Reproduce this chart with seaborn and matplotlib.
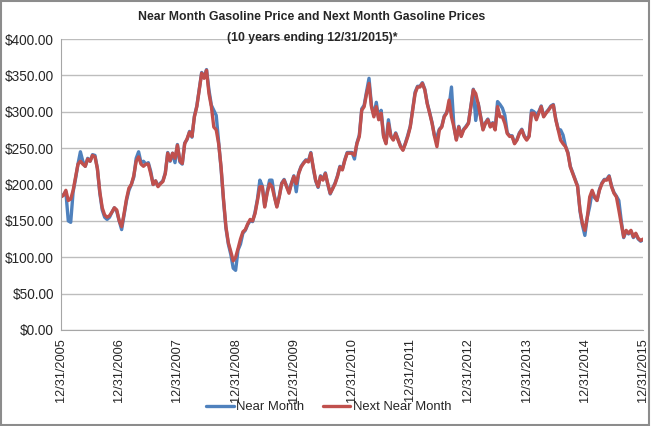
import matplotlib
matplotlib.use("Agg")
import matplotlib.pyplot as plt
import pandas as pd
import seaborn as sns

# Prices, one value per half month (cents per gallon shown as $)
next_2006 = [183, 185, 192, 178, 180, 192, 210, 228, 232, 228, 225, 235, 232, 240, 238, 222, 190, 168, 158, 155, 157, 162, 168, 165]
next_2007 = [150, 142, 160, 180, 195, 200, 212, 232, 238, 228, 225, 228, 228, 215, 200, 205, 197, 201, 204, 215, 243, 233, 243, 236]
next_2008 = [254, 233, 229, 256, 263, 272, 266, 293, 307, 330, 353, 346, 357, 325, 307, 279, 275, 256, 224, 180, 142, 120, 108, 95]
next_2009 = [100, 112, 125, 135, 138, 146, 152, 150, 160, 178, 197, 197, 169, 188, 201, 197, 183, 169, 183, 201, 206, 197, 188, 201]
next_2010 = [211, 201, 215, 224, 229, 233, 231, 243, 224, 206, 197, 211, 206, 215, 201, 188, 194, 201, 211, 224, 220, 233, 243, 243]
next_2011 = [243, 240, 256, 266, 302, 307, 325, 339, 307, 293, 307, 289, 298, 266, 256, 284, 266, 261, 270, 261, 252, 247, 256, 266]
next_2012 = [279, 302, 325, 334, 334, 339, 330, 311, 298, 284, 266, 252, 275, 279, 293, 298, 316, 293, 279, 261, 279, 266, 275, 279]
next_2013 = [284, 307, 330, 325, 311, 293, 275, 284, 289, 279, 284, 275, 307, 293, 293, 284, 270, 266, 266, 256, 261, 270, 275, 266]
next_2014 = [261, 266, 298, 298, 289, 298, 307, 293, 298, 302, 307, 309, 289, 275, 261, 256, 252, 243, 224, 215, 206, 197, 165, 146]
next_2015 = [137, 155, 183, 192, 183, 178, 192, 201, 206, 206, 211, 197, 188, 183, 165, 146, 128, 137, 133, 137, 128, 133, 126, 123, 125]

near_2006 = [183, 186, 190, 150, 148, 190, 208, 228, 245, 232, 225, 236, 232, 241, 240, 222, 188, 165, 155, 152, 155, 162, 168, 163]
near_2007 = [150, 138, 158, 178, 192, 200, 210, 236, 245, 230, 232, 228, 230, 218, 200, 205, 198, 202, 205, 216, 244, 232, 243, 230]
near_2008 = [255, 231, 228, 257, 262, 273, 265, 294, 308, 331, 354, 347, 358, 330, 309, 302, 295, 258, 222, 178, 140, 118, 104, 85]
near_2009 = [82, 110, 118, 133, 137, 145, 150, 149, 162, 180, 206, 198, 170, 190, 206, 206, 184, 170, 184, 202, 207, 198, 190, 202]
near_2010 = [212, 190, 216, 225, 230, 234, 232, 244, 222, 205, 196, 212, 207, 216, 200, 187, 195, 202, 212, 225, 221, 234, 244, 244]
near_2011 = [244, 235, 257, 268, 304, 309, 328, 346, 309, 295, 313, 290, 302, 267, 257, 289, 267, 262, 271, 262, 253, 248, 257, 268]
near_2012 = [280, 303, 327, 335, 335, 340, 331, 312, 299, 285, 267, 266, 276, 280, 294, 299, 307, 334, 280, 262, 280, 267, 276, 280]
near_2013 = [285, 308, 331, 288, 312, 294, 276, 285, 290, 280, 285, 276, 314, 310, 305, 295, 271, 267, 267, 257, 262, 271, 276, 267]
near_2014 = [262, 267, 302, 300, 296, 300, 308, 294, 299, 303, 308, 310, 290, 276, 275, 268, 253, 244, 225, 216, 207, 198, 163, 144]
near_2015 = [130, 155, 170, 190, 182, 178, 193, 202, 207, 207, 212, 198, 189, 184, 178, 150, 127, 136, 132, 136, 127, 132, 125, 122, 124]

next_month = next_2006 + next_2007 + next_2008 + next_2009 + next_2010 + next_2011 + next_2012 + next_2013 + next_2014 + next_2015
near_month = near_2006 + near_2007 + near_2008 + near_2009 + near_2010 + near_2011 + near_2012 + near_2013 + near_2014 + near_2015

start = pd.Timestamp("2005-12-31")
dates = [start + pd.Timedelta(days=365.25 * k / 24) for k in range(len(next_month))]
tick_dates = [pd.Timestamp(f"{y}-12-31") for y in range(2005, 2016)]

df = pd.DataFrame({"date": dates + dates,
                   "price": near_month + next_month,
                   "series": ["Near Month"] * len(dates) + ["Next Near Month"] * len(dates)})

sns.set_style("white")
plt.rcParams["font.family"] = ["Liberation Sans", "DejaVu Sans"]

fig = plt.figure(figsize=(6.51, 4.26), dpi=100)
ax = fig.add_axes([61 / 651, 96 / 426, 582 / 651, 291 / 426])

sns.lineplot(data=df, x="date", y="price", hue="series",
             palette={"Near Month": "#4F81BD", "Next Near Month": "#C0504D"},
             linewidth=2.4, ax=ax, legend=False)

ax.set_xlim(tick_dates[0], tick_dates[-1])
ax.set_ylim(0, 400)
ax.set_yticks(range(0, 401, 50))
ax.set_yticklabels([f"${v:.2f}" for v in range(0, 401, 50)], fontsize=9.8, color="#262626")
ax.set_xticks(tick_dates)
ax.set_xticklabels([d.strftime("%m/%d/%Y") for d in tick_dates], rotation=90, fontsize=9.2,
                   color="#262626")
ax.set_xlabel("")
ax.set_ylabel("")
ax.grid(axis="y", color="#BDBDBD", linewidth=1)
ax.set_axisbelow(True)
for side in ["top", "right"]:
    ax.spines[side].set_visible(False)
for side in ["left", "bottom"]:
    ax.spines[side].set_color("#A6A6A6")
ax.tick_params(axis="x", length=5, color="#A6A6A6", direction="out", pad=1)
ax.tick_params(axis="y", length=0, pad=5)

fig.text(0.479, 0.96, "Near Month Gasoline Price and Next Month Gasoline Prices",
         ha="center", va="center", fontsize=8.8, fontweight="bold")
fig.text(0.479, 0.911, "(10 years ending 12/31/2015)*",
         ha="center", va="center", fontsize=8.8, fontweight="bold")

handles = [plt.Line2D([], [], color="#4F81BD", linewidth=2.4),
           plt.Line2D([], [], color="#C0504D", linewidth=2.4)]
fig.legend(handles, ["Near Month", "Next Near Month"], loc="center",
           bbox_to_anchor=(0.505, 0.044), ncol=2, frameon=False, fontsize=9.4,
           handlelength=2.1, handletextpad=0.2, columnspacing=1.4,
           borderpad=0, borderaxespad=0)

fig.patches.append(plt.Rectangle((0.002, 0.003), 0.995, 0.994, transform=fig.transFigure,
                                 fill=False, edgecolor="#8C8C8C", linewidth=1.5))

fig.savefig("out.png", dpi=100)
